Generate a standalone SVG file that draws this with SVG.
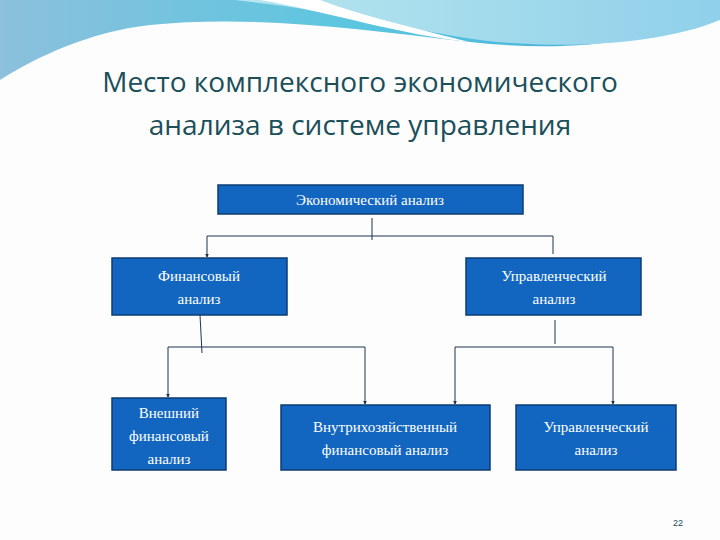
<svg xmlns="http://www.w3.org/2000/svg" width="720" height="540" viewBox="0 0 720 540">
<defs>
<linearGradient id="g1" x1="0" y1="0" x2="1" y2="0"><stop offset="0" stop-color="#8cc0dc"/><stop offset="0.5" stop-color="#5bc6e0"/><stop offset="1" stop-color="#3aa8d8"/></linearGradient>
<linearGradient id="g2" x1="0" y1="0" x2="1" y2="0"><stop offset="0" stop-color="#b8e6ee"/><stop offset="1" stop-color="#8fd0ea"/></linearGradient>
<marker id="ar" viewBox="0 0 6 6" refX="5" refY="3" markerWidth="4" markerHeight="4" orient="auto"><path d="M0,0L6,3L0,6z" fill="#1f3550"/></marker>
<style>
.box{fill:#1266bf;stroke:#0d3d73;stroke-width:1.5}
.t{font-family:"Liberation Serif",serif;font-size:15px;fill:#fff;text-anchor:middle}
.c{fill:none;stroke:#1f3550;stroke-width:1}
</style>
</defs>
<rect width="720" height="540" fill="#fdfdfd"/>
<path d="M0,0H720V15C640,45 560,52 470,42C350,28 250,15 150,25C90,32 40,55 0,80Z" fill="url(#g1)"/>
<path d="M235,0H720V20C660,45 560,50 480,40C400,28 330,10 235,0Z" fill="url(#g2)"/>
<path d="M260,0C330,12 400,35 470,42C420,30 350,12 320,0Z" fill="#fff"/>
<text x="360" y="92" font-family="Open Sans,sans-serif" font-size="28" fill="#1b4f5a" text-anchor="middle">Место комплексного экономического</text>
<text x="360" y="135" font-family="Open Sans,sans-serif" font-size="28" fill="#1b4f5a" text-anchor="middle">анализа в системе управления</text>
<g id="connectors">
<path class="c" d="M372,218V240"/>
<path class="c" d="M207,236H553"/>
<path class="c" d="M207,236V257" marker-end="url(#ar)"/>
<path class="c" d="M553,236V254"/>
<path class="c" d="M200,315L202,353"/>
<path class="c" d="M168,347H365"/>
<path class="c" d="M168,347V397" marker-end="url(#ar)"/>
<path class="c" d="M365,347V404" marker-end="url(#ar)"/>
<path class="c" d="M555,320V344"/>
<path class="c" d="M455,347H613"/>
<path class="c" d="M455,347V404" marker-end="url(#ar)"/>
<path class="c" d="M613,347V404" marker-end="url(#ar)"/>
</g>
<g id="n1"><rect class="box" x="218" y="185" width="305" height="29"/><text class="t" x="370" y="205">Экономический анализ</text></g>
<g id="n2"><rect class="box" x="112" y="258" width="175" height="57"/><text class="t" x="199" y="281">Финансовый</text><text class="t" x="199" y="304">анализ</text></g>
<g id="n3"><rect class="box" x="466" y="258" width="175" height="57"/><text class="t" x="554" y="281">Управленческий</text><text class="t" x="554" y="304">анализ</text></g>
<g id="n4"><rect class="box" x="112" y="398" width="114" height="72"/><text class="t" x="169" y="418">Внешний</text><text class="t" x="169" y="441">финансовый</text><text class="t" x="169" y="464">анализ</text></g>
<g id="n5"><rect class="box" x="281" y="405" width="209" height="65"/><text class="t" x="385" y="432">Внутрихозяйственный</text><text class="t" x="385" y="455">финансовый анализ</text></g>
<g id="n6"><rect class="box" x="516" y="405" width="160" height="65"/><text class="t" x="596" y="432">Управленческий</text><text class="t" x="596" y="455">анализ</text></g>
<text x="678" y="526" font-family="Liberation Sans,sans-serif" font-size="9" fill="#1b4f5a" text-anchor="middle">22</text>
</svg>
